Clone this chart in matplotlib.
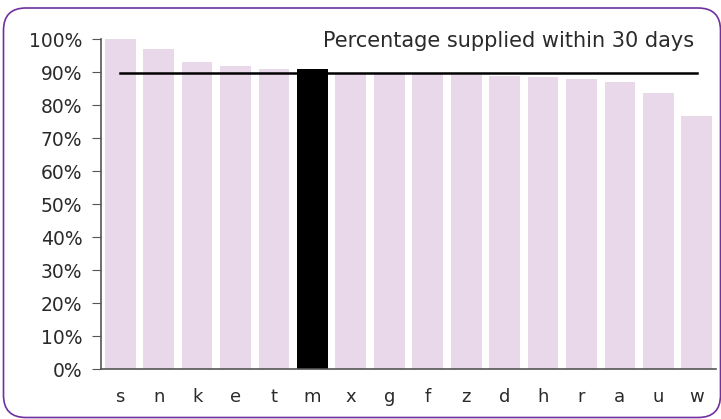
import matplotlib
matplotlib.use("Agg")
import matplotlib.pyplot as plt
from matplotlib.patches import FancyBboxPatch
from matplotlib.ticker import PercentFormatter

# Data
regions = ["s", "n", "k", "e", "t", "m", "x", "g", "f", "z", "d", "h", "r", "a", "u", "w"]
pct_supplied = [1.000, 0.971, 0.931, 0.919, 0.910, 0.910, 0.896, 0.895, 0.894, 0.893,
                0.890, 0.886, 0.880, 0.870, 0.837, 0.767]
highlight = "m"
target = 0.897

bar_colour = "#E9D8EA"
colours = ["black" if r == highlight else bar_colour for r in regions]


def main():
    plt.rcParams["font.family"] = ["DejaVu Sans"]
    fig = plt.figure(figsize=(7.21, 4.19), dpi=100)
    ax = fig.add_axes([101 / 721, 1 - 369 / 419, 615 / 721, 329.5 / 419])

    x = range(len(regions))
    ax.bar(x, pct_supplied, width=0.8, color=colours, zorder=2)
    ax.plot([0, len(regions) - 1], [target, target], color="black", lw=1.8, zorder=3)

    ax.set_xlim(-0.5, len(regions) - 0.5)
    ax.set_ylim(0, 1.0)
    ax.set_yticks([i / 10 for i in range(11)])
    ax.yaxis.set_major_formatter(PercentFormatter(1.0, decimals=0))
    ax.set_xticks(list(x))
    ax.set_xticklabels(regions)

    for side in ["top", "right"]:
        ax.spines[side].set_visible(False)
    for side in ["left", "bottom"]:
        ax.spines[side].set_color("#555555")
        ax.spines[side].set_linewidth(1.2)
    ax.tick_params(axis="y", length=6.5, pad=7, color="#555555", labelsize=13.5,
                   labelcolor="#2a2a2a")
    ax.tick_params(axis="x", length=0, pad=14, labelsize=13, labelcolor="#2a2a2a")

    fig.text(694 / 721, 1 - 47 / 419, "Percentage supplied within 30 days",
             ha="right", va="baseline", fontsize=15, color="#2a2a2a")

    border = FancyBboxPatch((3.5 / 721, 1.5 / 419), 717 / 721, 409.5 / 419,
                            boxstyle="round,pad=0,rounding_size=0.031",
                            transform=fig.transFigure, fill=False,
                            edgecolor="#7030A0", lw=1.2, mutation_aspect=721 / 419)
    fig.patches.append(border)

    fig.savefig("out.png", dpi=100)


if __name__ == "__main__":
    main()
